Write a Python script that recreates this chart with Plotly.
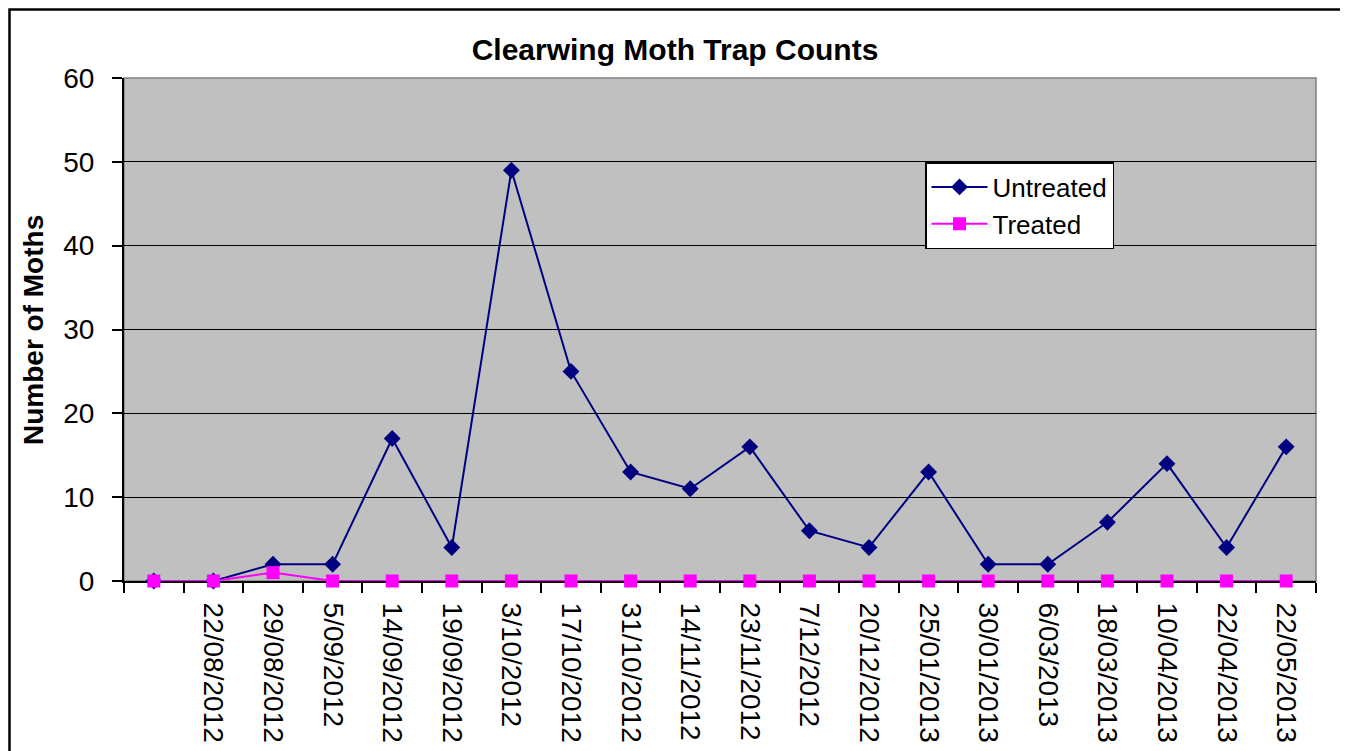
import plotly.graph_objects as go

dates = [" ", "22/08/2012", "29/08/2012", "5/09/2012", "14/09/2012", "19/09/2012",
         "3/10/2012", "17/10/2012", "31/10/2012", "14/11/2012", "23/11/2012",
         "7/12/2012", "20/12/2012", "25/01/2013", "30/01/2013", "6/03/2013",
         "18/03/2013", "10/04/2013", "22/04/2013", "22/05/2013"]
untreated = [0, 0, 2, 2, 17, 4, 49, 25, 13, 11, 16, 6, 4, 13, 2, 2, 7, 14, 4, 16]
treated = [0, 0, 1, 0, 0, 0, 0, 0, 0, 0, 0, 0, 0, 0, 0, 0, 0, 0, 0, 0]

FONT = "Arial, Liberation Sans, sans-serif"

# page body has an 8px margin, so the figure is 8px smaller than the window
W, H = 1340, 743
L, R, T, B = 116, 32, 70, 170
pw, ph = W - L - R, H - T - B

fig = go.Figure()
fig.add_trace(go.Scatter(
    x=dates, y=untreated, name="Untreated", mode="lines+markers",
    line=dict(color="#000080", width=2), cliponaxis=False,
    marker=dict(symbol="diamond", size=13, color="#000080"),
))
fig.add_trace(go.Scatter(
    x=dates, y=treated, name="Treated", mode="lines+markers",
    line=dict(color="#FF00FF", width=2), cliponaxis=False,
    marker=dict(symbol="square", size=13, color="#FF00FF"),
))

# outer chart border
fig.add_shape(type="rect", xref="paper", yref="paper",
              x0=(1.5 - L) / pw, x1=(1335 - L) / pw,
              y0=-0.6, y1=(H - B - 1.5) / ph,
              line=dict(color="black", width=2.5), layer="below")
# gray plot frame
fig.add_shape(type="rect", xref="paper", yref="paper", x0=0, x1=1, y0=0, y1=1,
              line=dict(color="#808080", width=1.5), layer="below")

fig.add_annotation(text="<b>Number of Moths</b>", xref="paper", yref="paper",
                   x=(25 - L) / pw, y=(H - B - 322) / ph, textangle=-90,
                   showarrow=False, xanchor="center", yanchor="middle",
                   font=dict(size=28, family=FONT, color="black"))

fig.update_layout(
    width=W, height=H,
    margin=dict(l=L, r=R, t=T, b=B, autoexpand=False),
    paper_bgcolor="white", plot_bgcolor="#C0C0C0",
    font=dict(family=FONT, size=26, color="black"),
    title=dict(text="<b>Clearwing Moth Trap Counts</b>", x=(667 - L) / pw, xref="paper",
               xanchor="center", y=1 - 41 / H, yanchor="middle",
               font=dict(size=30, family=FONT, color="black")),
    legend=dict(x=(917 - L) / pw, y=(H - B - 154) / ph, xanchor="left", yanchor="top",
                bgcolor="white", bordercolor="black", borderwidth=1.5,
                font=dict(size=26, family=FONT), itemwidth=56, tracegroupgap=0),
    showlegend=True,
)
fig.update_xaxes(
    type="category", range=[-0.5, 19.5], tickson="boundaries",
    ticks="outside", ticklen=10, tickcolor="black", tickwidth=2,
    tickangle=90, ticklabelstandoff=14, automargin=False, layer="below traces",
    showgrid=False, showline=True, linecolor="black", linewidth=2,
    tickfont=dict(size=28, family=FONT),
)
fig.update_yaxes(
    range=[0, 60], dtick=10, ticks="outside", ticklen=10, tickcolor="black", tickwidth=2,
    ticklabelstandoff=12, automargin=False, layer="below traces",
    showgrid=True, gridcolor="black", gridwidth=1, zeroline=False,
    showline=True, linecolor="black", linewidth=2,
    tickfont=dict(size=28, family=FONT),
)

fig.write_html("out.html")
